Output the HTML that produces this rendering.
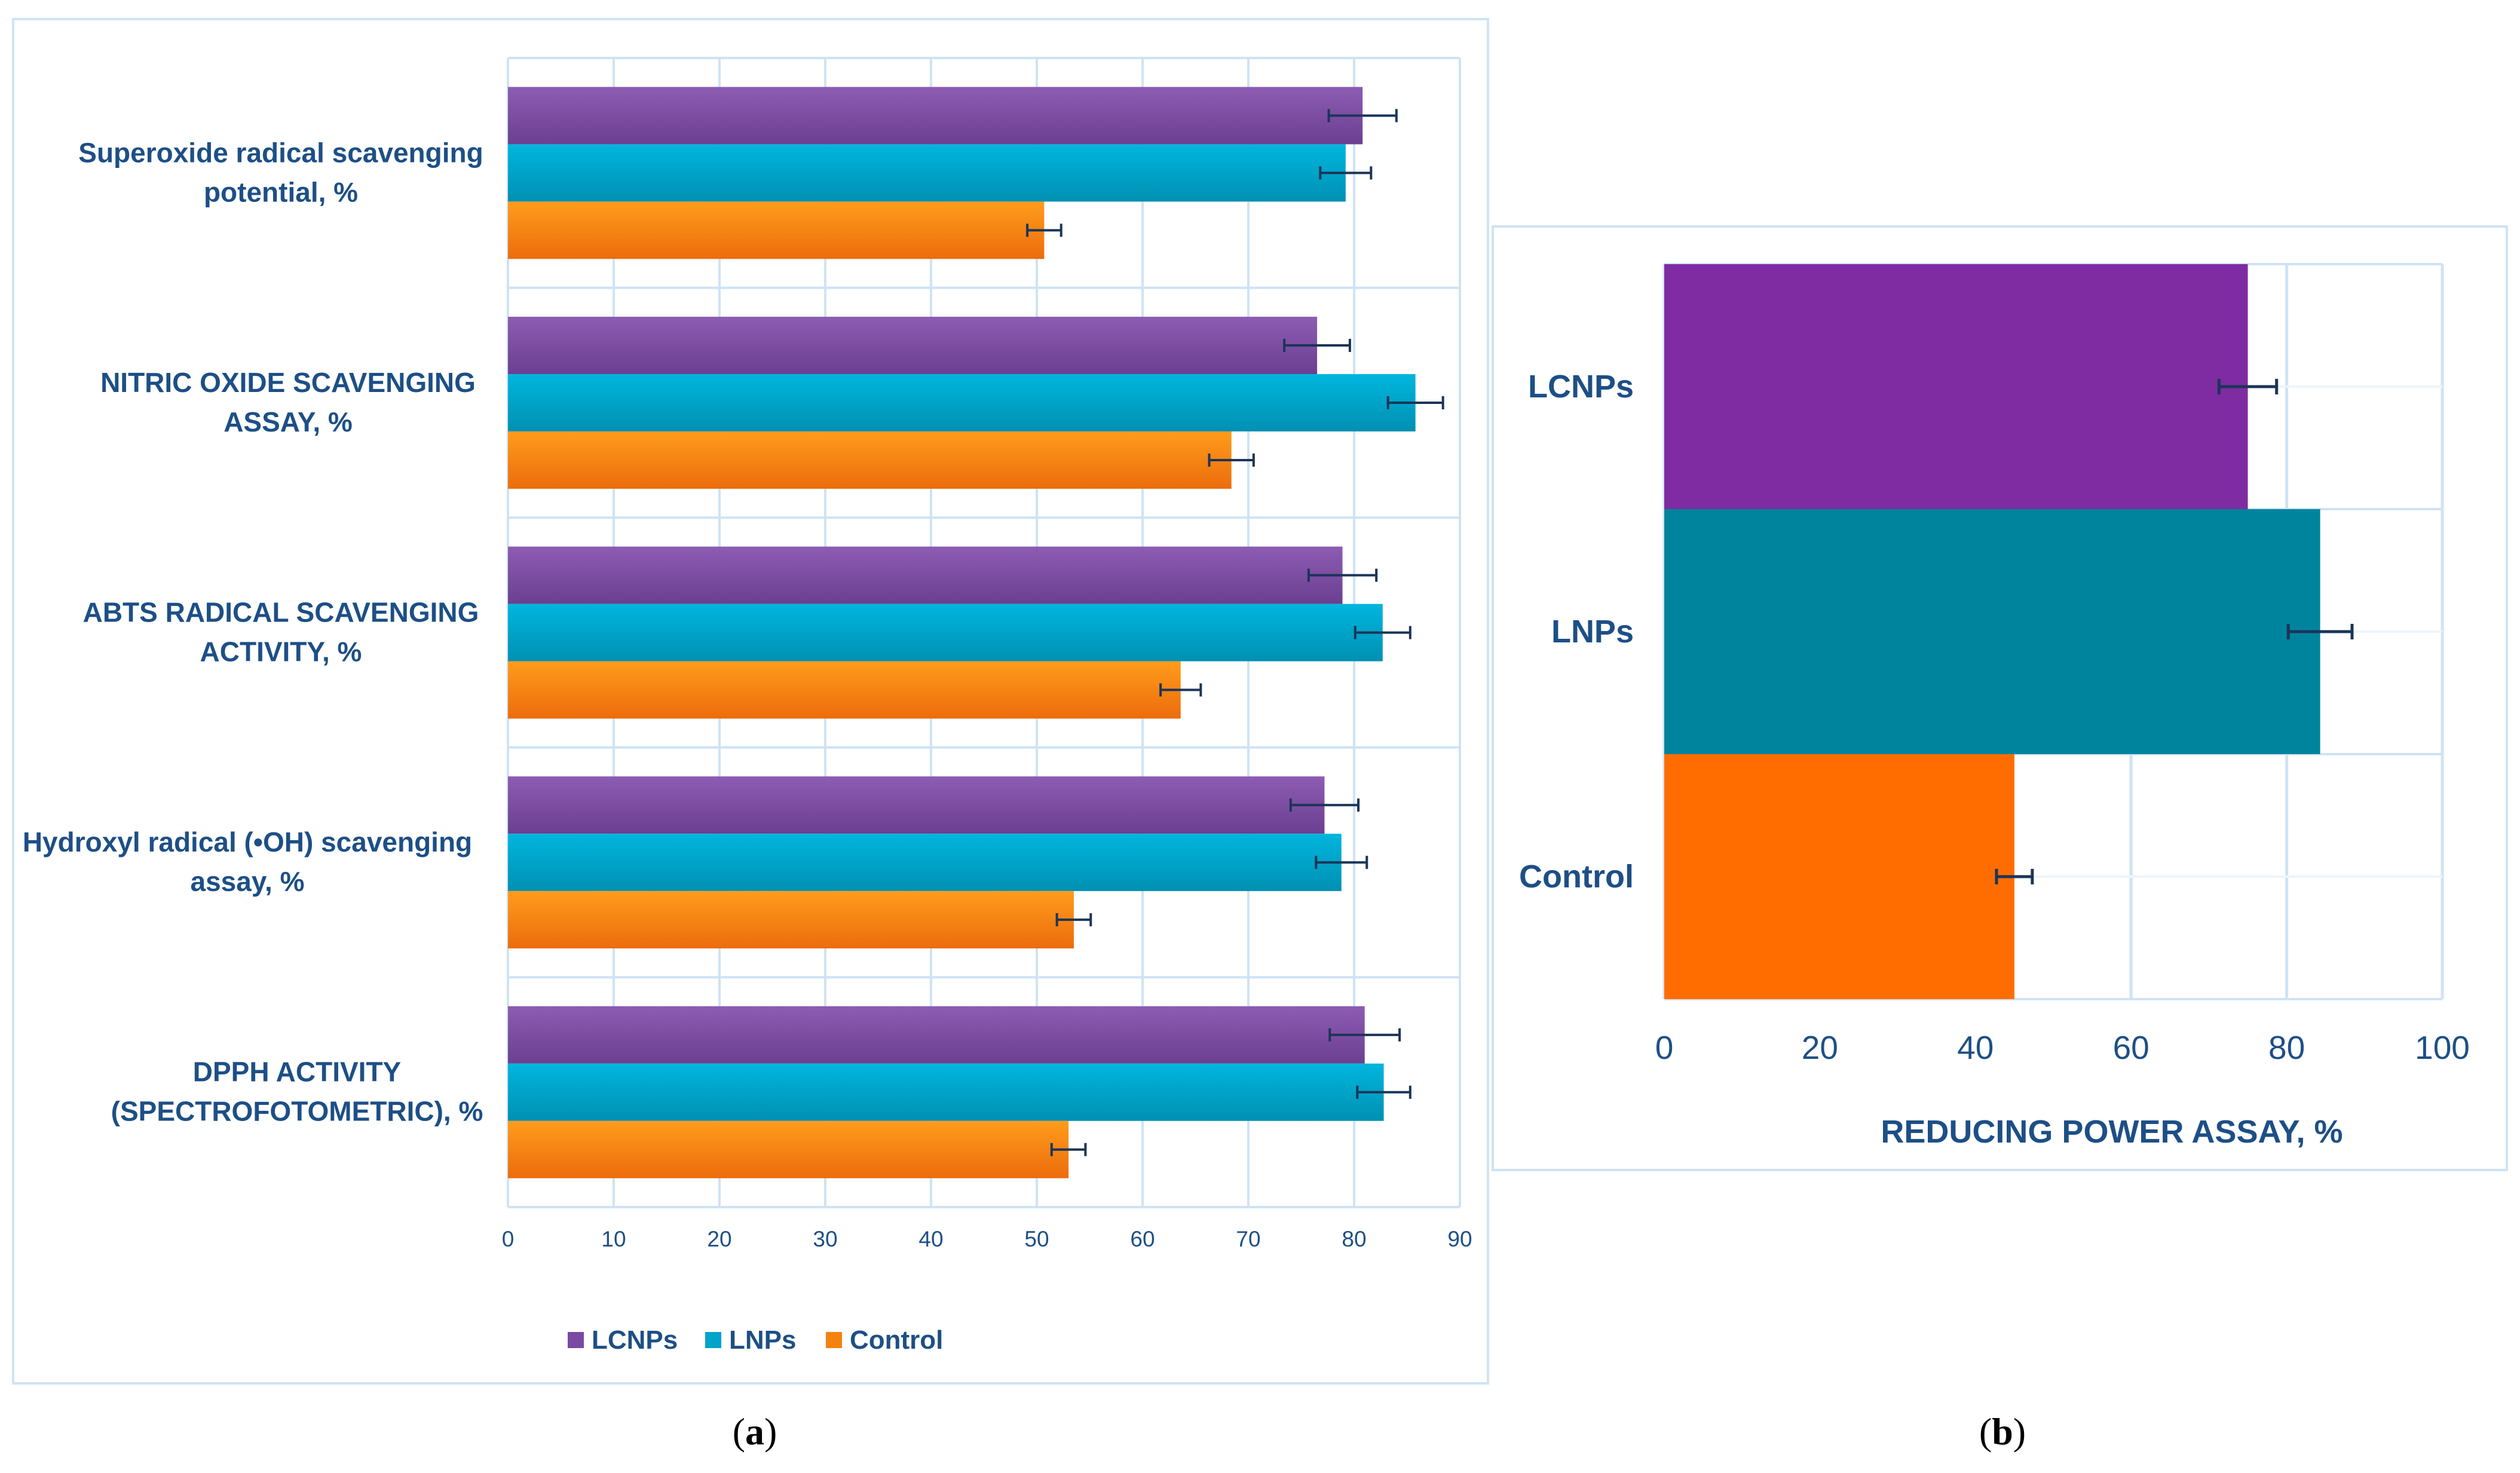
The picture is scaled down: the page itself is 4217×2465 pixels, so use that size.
<!DOCTYPE html>
<html><head><meta charset="utf-8"><style>
html,body{margin:0;padding:0;background:#fff;}
svg{display:block;font-family:"Liberation Sans",sans-serif;}
</style></head><body>
<svg id="chart" width="4217" height="2465" viewBox="0 0 4217 2465" xmlns="http://www.w3.org/2000/svg">
<defs>
<linearGradient id="gP" x1="0" y1="0" x2="0" y2="1"><stop offset="0" stop-color="#8d5cb3"/><stop offset="1" stop-color="#6b3f91"/></linearGradient>
<linearGradient id="gT" x1="0" y1="0" x2="0" y2="1"><stop offset="0" stop-color="#00b6de"/><stop offset="1" stop-color="#0090b2"/></linearGradient>
<linearGradient id="gO" x1="0" y1="0" x2="0" y2="1"><stop offset="0" stop-color="#ff9c1c"/><stop offset="1" stop-color="#ec6c0c"/></linearGradient>
</defs>
<rect x="22" y="32" width="2468" height="2283" fill="#fff" stroke="#cfe3f5" stroke-width="4"/>
<rect x="2498" y="379" width="1697" height="1579" fill="#fff" stroke="#cfe3f5" stroke-width="4"/>
<g id="pa"></g>
<g id="pb"></g>
<text x="1263" y="2417" font-family="Liberation Serif, serif" font-size="64" text-anchor="middle" fill="#000">(<tspan font-weight="bold">a</tspan>)</text>
<text x="3351" y="2417" font-family="Liberation Serif, serif" font-size="64" text-anchor="middle" fill="#000">(<tspan font-weight="bold">b</tspan>)</text>
</svg>
<script>
const categoriesA = [["Superoxide radical scavenging","potential, %"],["NITRIC OXIDE SCAVENGING","ASSAY, %"],["ABTS RADICAL SCAVENGING","ACTIVITY, %"],["Hydroxyl radical (\u2022OH) scavenging","assay, %"],["DPPH ACTIVITY","(SPECTROFOTOMETRIC), %"]];
const seriesNames = ["LCNPs","LNPs","Control"];
const lcnpsA = [80.8,76.5,78.9,77.2,81.0];
const lnpsA = [79.2,85.8,82.7,78.8,82.8];
const controlA = [50.7,68.4,63.6,53.5,53.0];
const lcnpsErrA = [3.2,3.1,3.2,3.2,3.3];
const lnpsErrA = [2.4,2.6,2.6,2.4,2.5];
const controlErrA = [1.6,2.1,1.9,1.6,1.6];
const ticksA = [0,10,20,30,40,50,60,70,80,90];
const categoriesB = ["LCNPs","LNPs","Control"];
const valuesB = [75.0,84.3,45.0];
const errB = [3.7,4.1,2.3];
const ticksB = [0,20,40,60,80,100];

const NS="http://www.w3.org/2000/svg";
function mk(parent,tag,attrs,text){const e=document.createElementNS(NS,tag);for(const k in attrs)e.setAttribute(k,attrs[k]);if(text!==undefined)e.textContent=text;parent.appendChild(e);return e;}
const TXT="#1d4f86", GRID="#cfe3f5", ERR="#1b3558";

// Panel A
const pa=document.getElementById('pa');
const aL=850,aR=2443,aT=97,aB=2020,aMax=90;
const xA=v=>aL+(aR-aL)*v/aMax;
const gH=(aB-aT)/categoriesA.length, bH=gH*0.2495, mg=gH*0.126;
const labelCx=[470,482,470,414,497];
ticksA.forEach(t=>{
  const l=mk(pa,'line',{x1:xA(t),x2:xA(t),y1:aT,y2:aB,stroke:GRID,'stroke-width':4});
  
  
  const tx=mk(pa,'text',{x:xA(t),y:2086,'font-size':37,fill:TXT,'text-anchor':'middle'},String(t));
  
  
});
for(let i=0;i<=categoriesA.length;i++){
  const l=mk(pa,'line',{x1:aL,x2:aR,y1:aT+gH*i,y2:aT+gH*i,stroke:GRID,'stroke-width':4});
  
  
}
const seriesA=[lcnpsA,lnpsA,controlA], errA=[lcnpsErrA,lnpsErrA,controlErrA], fillsA=["url(#gP)","url(#gT)","url(#gO)"], keys=["lcnps","lnps","control"];
categoriesA.forEach((c,i)=>{
  const g0=aT+gH*i;
  seriesA.forEach((s,j)=>{
    const y=g0+mg+bH*j;
    const r=mk(pa,'rect',{x:aL,y:y,width:xA(s[i])-aL,height:bH,fill:fillsA[j]});
    
    
    const cy=y+bH/2, e=errA[j][i];
    const eg=mk(pa,'g',{stroke:ERR,'stroke-width':4});
    
    
    mk(eg,'line',{x1:xA(s[i]-e),x2:xA(s[i]+e),y1:cy,y2:cy});
    mk(eg,'line',{x1:xA(s[i]-e),x2:xA(s[i]-e),y1:cy-11,y2:cy+11});
    mk(eg,'line',{x1:xA(s[i]+e),x2:xA(s[i]+e),y1:cy-11,y2:cy+11});
  });
  const cy=g0+gH/2;
  const t=mk(pa,'text',{x:labelCx[i],y:cy,'font-size':46,'font-weight':'bold',fill:TXT,'text-anchor':'middle'});
  
  
  mk(t,'tspan',{x:labelCx[i],dy:-18},c[0]);
  mk(t,'tspan',{x:labelCx[i],dy:66},c[1]);
});
// legend
const legX=[950,1180,1382], legF=["#7a4aa2","#00a3c9","#f5820f"];
seriesNames.forEach((n,j)=>{
  const g=mk(pa,'g',{});
  
  
  mk(g,'rect',{x:legX[j],y:2229,width:27,height:27,fill:legF[j]});
  mk(g,'text',{x:legX[j]+40,y:2257,'font-size':44,'font-weight':'bold',fill:TXT},n);
});

// Panel B
const pb=document.getElementById('pb');
const bL=2785,bR=4087,bT=442,bB=1672,bMax=100;
const xB=v=>bL+(bR-bL)*v/bMax;
const bh=(bB-bT)/categoriesB.length;
ticksB.forEach(t=>{
  const l=mk(pb,'line',{x1:xB(t),x2:xB(t),y1:bT,y2:bB,stroke:GRID,'stroke-width':5});
  
  
  const tx=mk(pb,'text',{x:xB(t),y:1772,'font-size':55,fill:TXT,'text-anchor':'middle'},String(t));
  
  
});
for(let i=0;i<=categoriesB.length;i++){
  const l=mk(pb,'line',{x1:bL,x2:bR,y1:bT+bh*i,y2:bT+bh*i,stroke:GRID,'stroke-width':4});
  
  
}
categoriesB.forEach((c,i)=>{
  const cy=bT+bh*i+bh/2;
  const l=mk(pb,'line',{x1:bL,x2:bR,y1:cy,y2:cy,stroke:"#eef5fb",'stroke-width':4});
  
  
});
const fillsB=["#7f2ba1","#00849e","#ff6d00"];
categoriesB.forEach((c,i)=>{
  const y=bT+bh*i;
  const r=mk(pb,'rect',{x:bL,y:y,width:xB(valuesB[i])-bL,height:bh,fill:fillsB[i]});
  
  
  const cy=y+bh/2,e=errB[i];
  const eg=mk(pb,'g',{stroke:ERR,'stroke-width':5});
  
  
  mk(eg,'line',{x1:xB(valuesB[i]-e),x2:xB(valuesB[i]+e),y1:cy,y2:cy});
  mk(eg,'line',{x1:xB(valuesB[i]-e),x2:xB(valuesB[i]-e),y1:cy-13,y2:cy+13});
  mk(eg,'line',{x1:xB(valuesB[i]+e),x2:xB(valuesB[i]+e),y1:cy-13,y2:cy+13});
  const t=mk(pb,'text',{x:2734,y:cy+18,'font-size':54,'font-weight':'bold',fill:TXT,'text-anchor':'end'},c);
  
  
});
const ttl=mk(pb,'text',{x:3534,y:1912,'font-size':54,'font-weight':'bold',fill:TXT,'text-anchor':'middle'},"REDUCING POWER ASSAY, %");


</script>
</body></html>
